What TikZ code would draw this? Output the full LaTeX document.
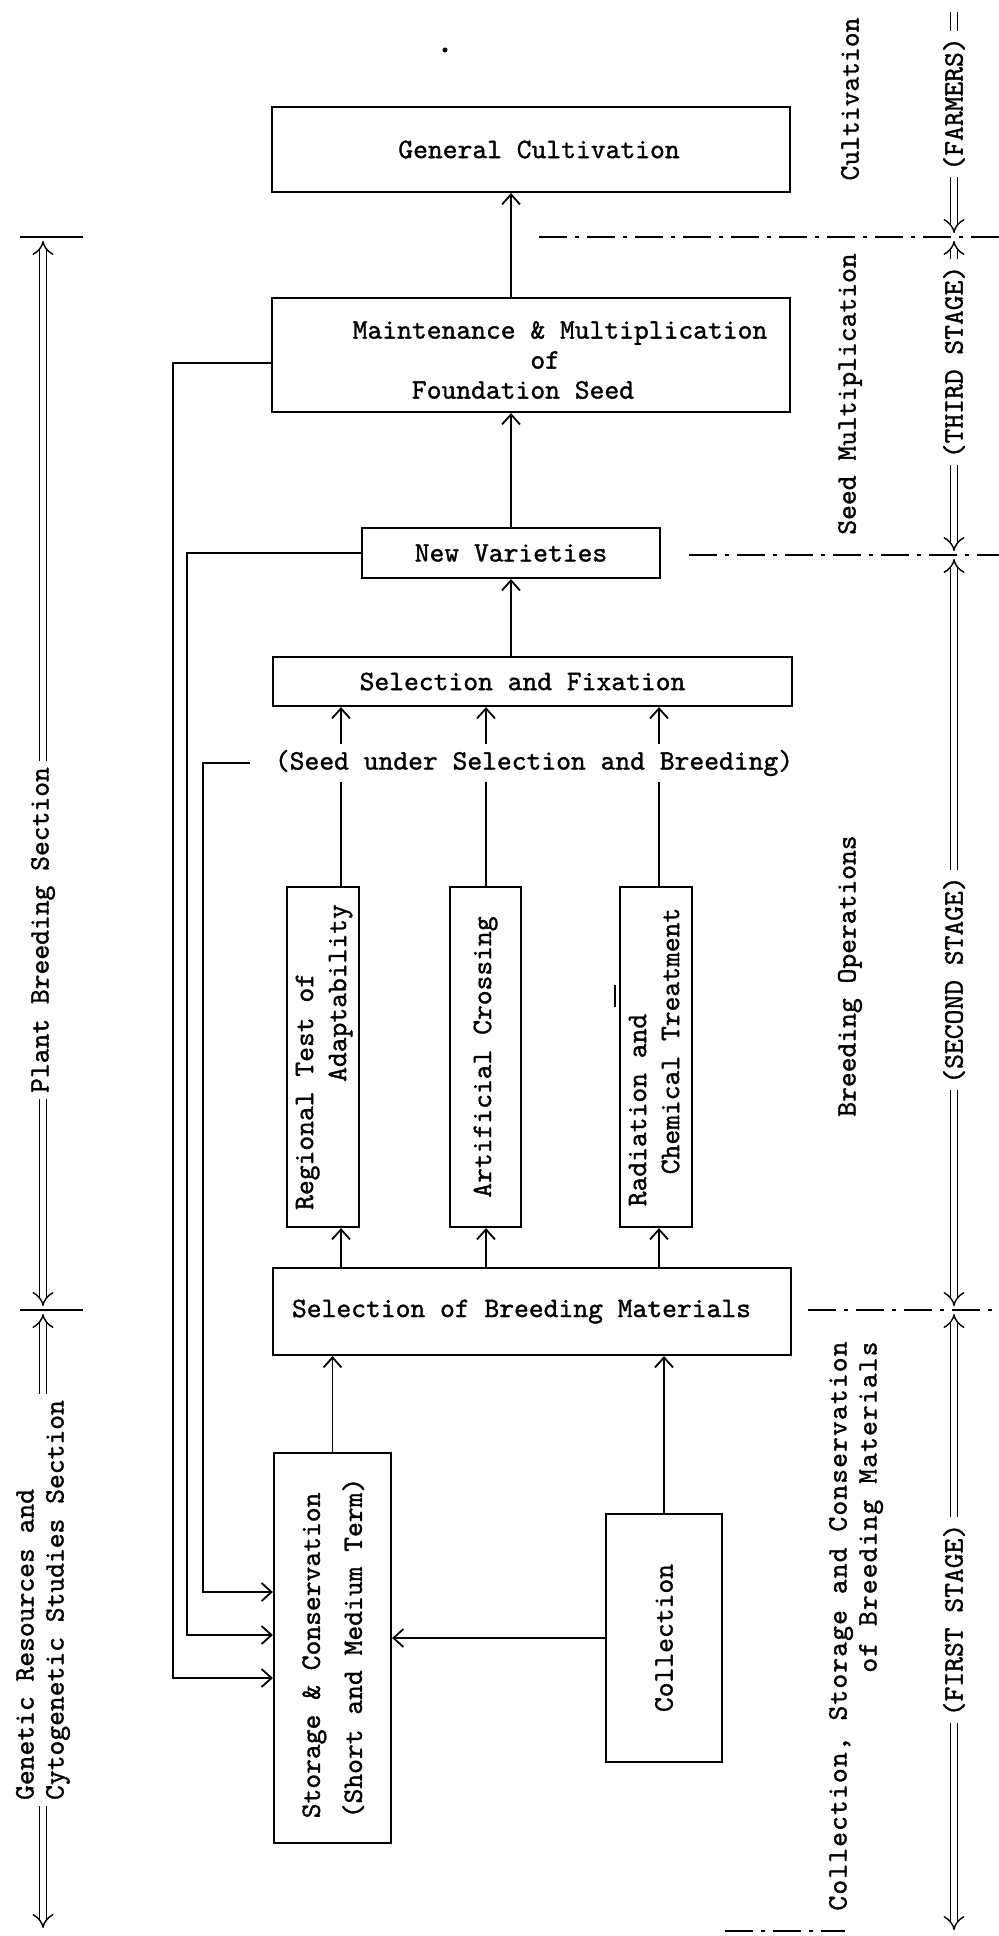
\documentclass[tikz,border=0pt]{standalone}
\usepackage{fontspec}
\setmonofont{lmmono10-regular.otf}[FakeBold=1.2]
\usetikzlibrary{arrows.meta,calc}
\begin{document}
\begin{tikzpicture}[x=0.5pt,y=-0.5pt,
  every node/.style={font=\ttfamily\fontsize{14.1}{15}\selectfont},
  box/.style={draw,line width=1.1pt,inner sep=0pt},
  vtext/.style={rotate=90,inner sep=3pt},
  wide/.style={font=\ttfamily\fontsize{14.1}{15}\selectfont\addfontfeature{LetterSpace=4}},
  flow/.style={line width=0.9pt,-{Straight Barb[length=5pt,width=9pt]}},
  wire/.style={line width=0.9pt},
  stage/.style={double,double distance=3pt,line width=0.7pt,-{Implies[scale=1.4]},shorten >=2pt},
  plain stage/.style={double,double distance=3pt,line width=0.7pt},
  divider/.style={line width=0.9pt,dash pattern=on 14pt off 4pt on 2pt off 4pt},
]
\useasboundingbox (0,0) rectangle (999,1936);

% ---------- main column ----------
\node[box,minimum width=259pt,minimum height=42.5pt] (gc) at (531,149.5) {\hspace*{8pt}General Cultivation};
\node[box,minimum width=259pt,minimum height=57pt] (maint) at (531,355) {};
\node[align=left,inner sep=0pt] (mainttxt) at (560,360)
  {Maintenance \& Multiplication\\\phantom{xxxxxxxxxxxx}of\\\phantom{xxxx}Foundation Seed};
\node[box,minimum width=149pt,minimum height=25pt] (nv) at (511,553) {New Varieties};
\node[box,minimum width=259.5pt,minimum height=24.5pt] (sf) at (532.5,681.5) {Selection and Fixation\hspace*{10pt}};
\node[inner sep=3pt] (seed) at (534,763) {(Seed under Selection and Breeding)};

\node[box,minimum width=36pt,minimum height=170pt] (reg) at (323,1057)
  {\rotatebox{90}{\def\arraystretch{1.1}\begin{tabular}{@{}l@{}}Regional Test of\\\hspace*{64pt}Adaptability\end{tabular}}};
\node[box,minimum width=35.5pt,minimum height=170pt] (art) at (485.5,1057)
  {\rotatebox{90}{Artificial Crossing}};
\node[box,minimum width=36pt,minimum height=170pt] (rad) at (656,1057)
  {\rotatebox{90}{\def\arraystretch{1.1}\begin{tabular}{@{}l@{}}Radiation and\\\hspace*{16pt}Chemical Treatment\end{tabular}}};

\node[box,minimum width=259pt,minimum height=43.5pt] (sbm) at (532,1311.5) {Selection of Breeding Materials\hspace*{10.5pt}};

\node[box,minimum width=58.5pt,minimum height=195pt] (sto) at (332.5,1648)
  {\rotatebox{90}{\def\arraystretch{1.4}\begin{tabular}{@{}l@{}}Storage \& Conservation\\(Short and Medium Term)\end{tabular}}};
\node[box,minimum width=58pt,minimum height=124pt] (col) at (664,1638) {\rotatebox{90}{Collection}};

% stray speck and tick on the sheet
\node[circle,fill,inner sep=0.9pt] (speck) at (445,50) {};
\coordinate (tk1) at (615,985);
\coordinate (tk2) at (615,1007);
\draw[wire] (tk1) -- (tk2);

% ---------- main flow ----------
\draw[flow] (maint.north -| nv.north) -- (gc.south -| nv.north);
\draw[flow] (nv.north) -- (maint.south -| nv.north);
\draw[flow] (sf.north -| nv.north) -- (nv.south);

\coordinate (b1) at ($(reg.north)+(18,0)$);
\coordinate (b2) at ($(art.north)+(0.5,0)$);
\coordinate (b3) at ($(rad.north)+(3,0)$);
\foreach \b in {b1,b2,b3}{
  \draw[wire] (\b) -- (\b |- seed.south);
  \draw[flow] (\b |- seed.north) -- (\b |- sf.south);
}
\draw[flow] (b1 |- sbm.north) -- (b1 |- reg.south);
\draw[flow] (b2 |- sbm.north) -- (b2 |- art.south);
\draw[flow] (b3 |- sbm.north) -- (b3 |- rad.south);

\draw[flow] (sto.north) -- (sto.north |- sbm.south);
\draw[flow] (col.north) -- (col.north |- sbm.south);
\draw[flow] (col.west) -- (col.west -| sto.east);

% feedback into storage
\draw[flow] ($(maint.west)+(0,8)$) -| ($(sto.west)+(-100,30)$) -- ($(sto.west)+(0,30)$);
\draw[flow] (nv.west) -| ($(sto.west)+(-86,-13)$) -- ($(sto.west)+(0,-13)$);
\draw[flow] ($(seed.west)+(-19,0)$) -| ($(sto.west)+(-70,-56)$) -- ($(sto.west)+(0,-56)$);

% ---------- stage dividers ----------
\coordinate (d1a) at (539,237);  \coordinate (d1b) at (999,237);
\coordinate (d2a) at (689,555);  \coordinate (d2b) at (999,555);
\coordinate (d3a) at (808,1310); \coordinate (d3b) at (999,1310);
\coordinate (d4a) at (725,1931); \coordinate (d4b) at (845,1931);
\draw[divider] (d1a) -- (d1b);
\draw[divider] (d2a) -- (d2b);
\draw[divider] (d3a) -- (d3b);
\draw[divider] (d4a) -- (d4b);

% ---------- right margin: stages ----------
\node[vtext] (cult) at (850,99) {Cultivation};
\node[vtext] (seedmult) at (850,394) {Seed Multiplication};
\node[vtext] (breedops) at (850,976) {Breeding Operations};
\node[vtext,wide,align=right] (collect) at (856,1626)
  {Collection, Storage and Conservation\\of Breeding Materials};

\node[vtext] (farmers) at (954,104) {(FARMERS)};
\node[vtext] (third) at (954,362) {(THIRD STAGE)};
\node[vtext] (second) at (954,980) {(SECOND STAGE)};
\node[vtext] (first) at (954,1620) {(FIRST STAGE)};
\coordinate (rtop) at (954,12);
\coordinate (rbot) at (954,1934);

\draw[plain stage] (farmers.east) -- (rtop);
\draw[stage] (farmers.west) -- (farmers.west |- d1b);
\draw[stage] (third.east) -- (third.east |- d1b);
\draw[stage] (third.west) -- (third.west |- d2b);
\draw[stage] (second.east) -- (second.east |- d2b);
\draw[stage] (second.west) -- (second.west |- d3b);
\draw[stage] (first.east) -- (first.east |- d3b);
\draw[stage] (first.west) -- (rbot);

% ---------- left margin: sections ----------
\coordinate (ltl) at (20,237);  \coordinate (ltr) at (83,237);
\coordinate (lml) at (20,1310); \coordinate (lmr) at (83,1310);
\coordinate (lbot) at (43,1932);
\draw[wire] (ltl) -- (ltr);
\draw[wire] (lml) -- (lmr);

\node[vtext] (pbs) at (43,930) {Plant Breeding Section};
\node[vtext,align=left] (grs) at (43,1600) {Genetic Resources and\\Cytogenetic Studies Section};

\draw[stage] (pbs.east) -- (pbs.east |- ltl);
\draw[stage] (pbs.west) -- (pbs.west |- lml);
\draw[stage] (grs.east) -- (grs.east |- lml);
\draw[stage] (grs.west) -- (lbot);
\end{tikzpicture}
\end{document}
